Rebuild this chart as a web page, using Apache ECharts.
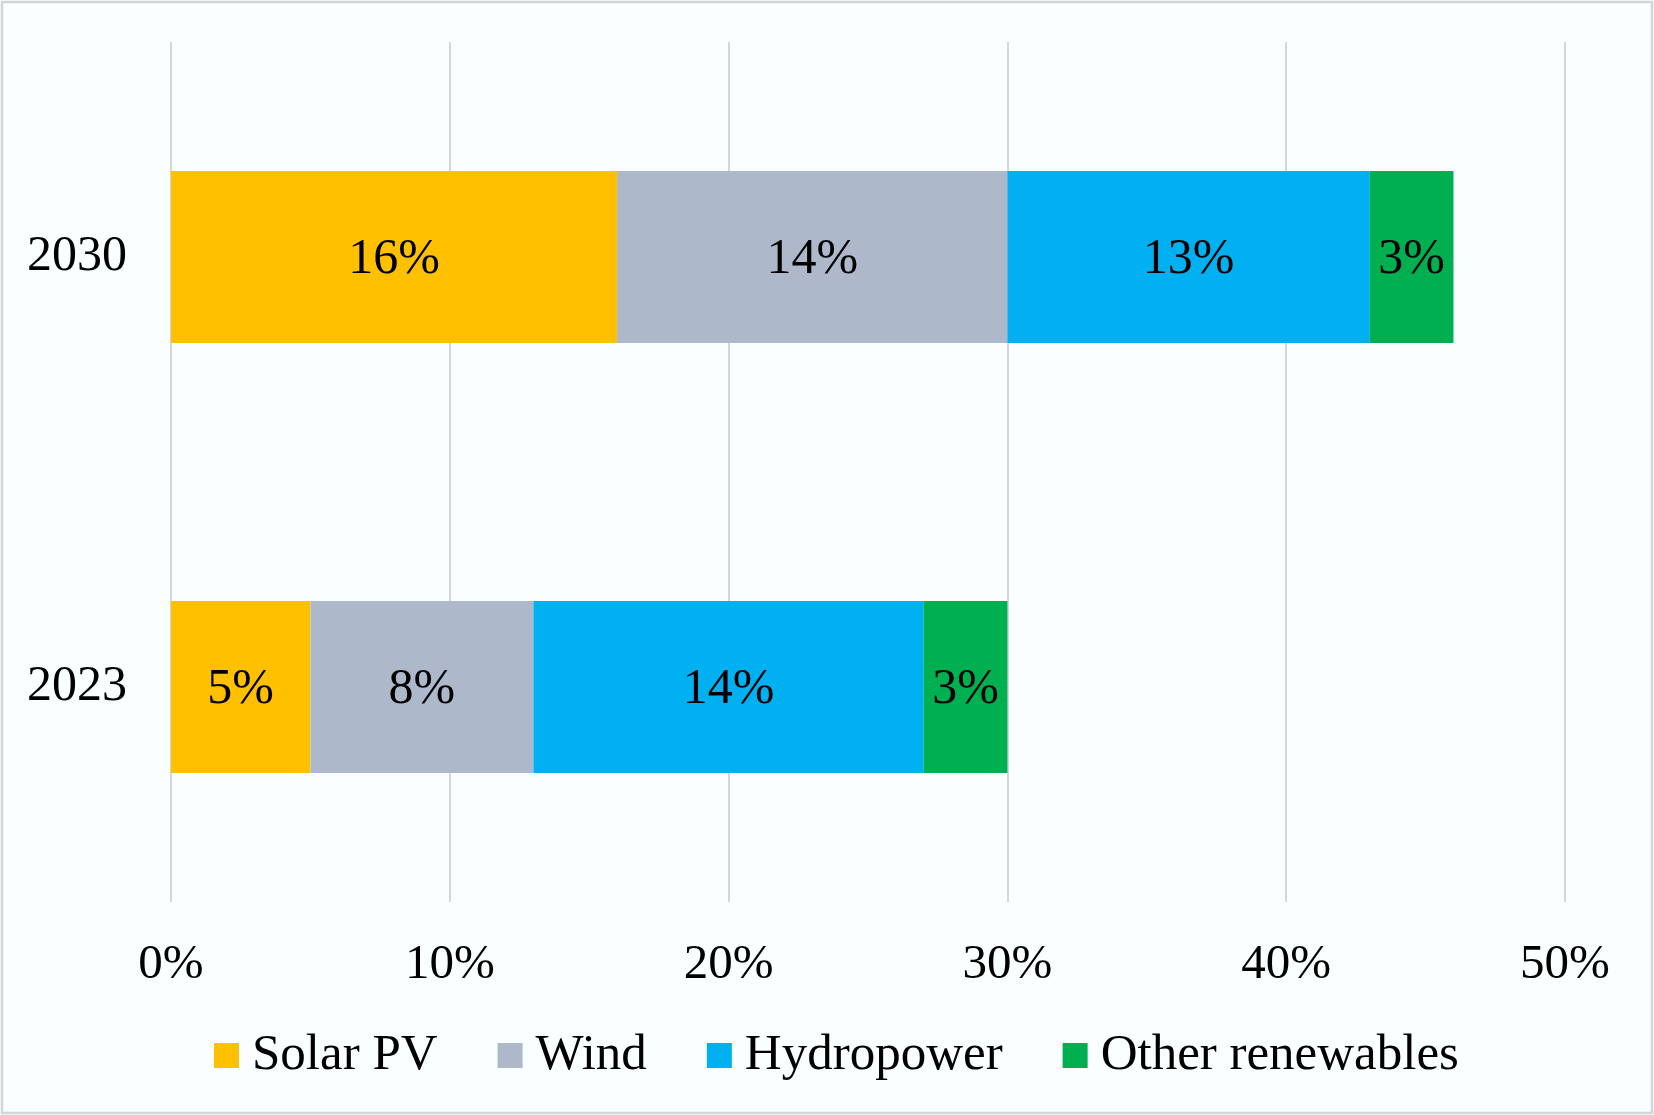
<!DOCTYPE html>
<html>
<head>
<meta charset="utf-8">
<script src="https://cdn.jsdelivr.net/npm/echarts@6/dist/echarts.min.js"></script>
<style>
html,body{margin:0;padding:0;background:#F9FEFF;}
#chart{width:1654px;height:1115px;}
</style>
</head>
<body>
<div id="chart"></div>
<script>
const categories = ['2023', '2030'];
const seriesNames = ['Solar PV', 'Wind', 'Hydropower', 'Other renewables'];
const solarPV = [5, 16];
const wind = [8, 14];
const hydropower = [14, 13];
const otherRenewables = [3, 3];
const xTicks = [0, 10, 20, 30, 40, 50];
const colors = ['#FFC000', '#ADB9CA', '#00B0F0', '#00B050'];

const valuesList = [solarPV, wind, hydropower, otherRenewables];
const font = 'Liberation Serif, Times New Roman, serif';

const chart = echarts.init(document.getElementById('chart'));
chart.setOption({
  backgroundColor: '#F9FEFF',
  animation: false,
  textStyle: { fontFamily: font, color: '#000' },
  graphic: [{
    type: 'rect',
    shape: { x: 2, y: 2, width: 1650, height: 1111 },
    style: { fill: 'none', stroke: '#D3D6D9', lineWidth: 2.5 },
    silent: true
  }],
  grid: { left: 171, right: 89, top: 42, bottom: 213, containLabel: false },
  legend: {
    data: seriesNames,
    left: 209,
    top: 1025,
    itemWidth: 25,
    itemHeight: 25,
    itemGap: 60,
    icon: 'rect',
    textStyle: { fontFamily: font, fontSize: 51, color: '#000', padding: [0, 0, 0, 8] }
  },
  xAxis: {
    type: 'value',
    min: xTicks[0],
    max: xTicks[xTicks.length - 1],
    interval: 10,
    axisLine: { show: false },
    axisTick: { show: false },
    splitLine: { show: true, lineStyle: { color: '#D6D6D6', width: 2 } },
    axisLabel: { formatter: '{value}%', fontFamily: font, fontSize: 49, color: '#000', margin: 39 }
  },
  yAxis: {
    type: 'category',
    data: categories,
    axisLine: { show: false },
    axisTick: { show: false },
    axisLabel: { fontFamily: font, fontSize: 50, color: '#000', margin: 44 }
  },
  series: seriesNames.map((name, i) => ({
    name: name,
    type: 'bar',
    stack: 'total',
    barCategoryGap: '60%',
    data: valuesList[i],
    itemStyle: { color: colors[i] },
    label: {
      show: true,
      position: 'inside',
      offset: [0, 3],
      formatter: '{c}%',
      fontFamily: font,
      fontSize: 50,
      color: '#000'
    }
  }))
});
</script>
</body>
</html>
